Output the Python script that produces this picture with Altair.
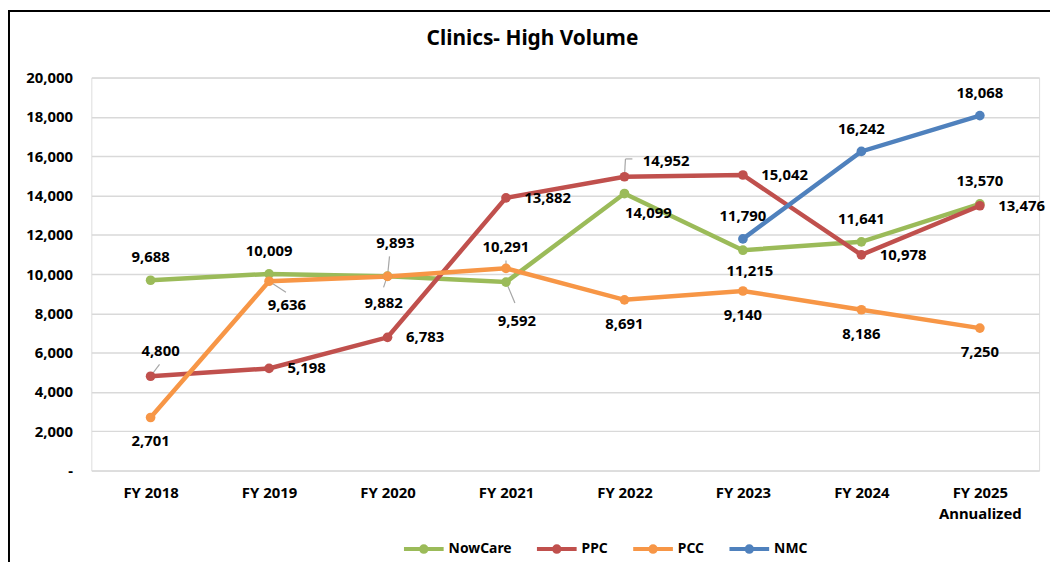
import altair as alt
import pandas as pd

# ---- data ----
years = ["FY 2018", "FY 2019", "FY 2020", "FY 2021", "FY 2022", "FY 2023", "FY 2024", "FY 2025"]
nowcare = [9688, 10009, 9893, 9592, 14099, 11215, 11641, 13570]
ppc = [4800, 5198, 6783, 13882, 14952, 15042, 10978, 13476]
pcc = [2701, 9636, 9882, 10291, 8691, 9140, 8186, 7250]
nmc = [None, None, None, None, None, 11790, 16242, 18068]
series_names = ["NowCare", "PPC", "PCC", "NMC"]
series_colors = ["#9BBB59", "#C0504D", "#F79646", "#4F81BD"]
y_ticks = [0, 2000, 4000, 6000, 8000, 10000, 12000, 14000, 16000, 18000, 20000]

# ---- label placement (dx, dy, align) ----
ABOVE = (0, -23, "center")
BELOW = (0, 24, "center")
RIGHT = (18.5, 0, "left")
placements = {
    "NowCare": [ABOVE, ABOVE, (8, -33, "center"), (11, 39, "center"), (24, 20, "center"),
                (7, 21, "center"), ABOVE, ABOVE],
    "PPC": [(10, -25, "center"), RIGHT, RIGHT, RIGHT, (18.5, -16, "left"), RIGHT, RIGHT, RIGHT],
    "PCC": [BELOW, (18, 24, "center"), (-4, 27, "center"), (0, -21, "center"), BELOW, BELOW, BELOW, BELOW],
    "NMC": [None, None, None, None, None, ABOVE, ABOVE, ABOVE],
}
leaders = [
    ("NowCare", "FY 2020", 2, -20, 0, 0),
    ("PCC", "FY 2020", -1, 2, -4, 11),
    ("NowCare", "FY 2021", 1, 2, 9, 21),
    ("PCC", "FY 2021", 0, -8, 0, 0),
    ("PPC", "FY 2022", 0, 0, 1, -18),
    ("PPC", "FY 2022", 1, -18, 8, -18),
    ("PPC", "FY 2018", 0, 0, 9, -12),
    ("PCC", "FY 2019", 0, 0, 17, 11),
]

pl_list = []
rows = []
for name, vals in zip(series_names, [nowcare, ppc, pcc, nmc]):
    for i, (yr, v) in enumerate(zip(years, vals)):
        if v is None:
            continue
        p = placements[name][i]
        if p not in pl_list:
            pl_list.append(p)
        rows.append({"series": name, "year": yr, "value": v, "pl": pl_list.index(p)})
df = pd.DataFrame(rows)

FONT = "Noto Sans"
cscale = alt.Scale(domain=series_names, range=series_colors)

xaxis = alt.Axis(
    title=None, labelAngle=0, ticks=False, domain=False, grid=False,
    labelFont=FONT, labelFontSize=15, labelFontWeight="bold", labelColor="black",
    labelPadding=15, labelLineHeight=21,
    labelExpr="datum.value == 'FY 2025' ? ['FY 2025', 'Annualized'] : datum.value",
)
yaxis = alt.Axis(
    title=None, values=y_ticks, ticks=False, domain=False, grid=True,
    gridColor="#d9d9d9", gridWidth=1.5,
    labelFont=FONT, labelFontSize=15, labelFontWeight="bold", labelColor="black",
    labelPadding=19,
    labelExpr="datum.value == 0 ? '-\u00a0\u00a0' : format(datum.value, ',')",
)

base = alt.Chart(df).encode(
    x=alt.X("year:N", sort=years, scale=alt.Scale(type="point", padding=0.5), axis=xaxis),
    y=alt.Y("value:Q", scale=alt.Scale(domain=[0, 20000], nice=False), axis=yaxis),
)

SYMBOL = ("M-1,0L1,0"
          "M0.14,0A0.14,0.14,0,1,1,-0.14,0A0.14,0.14,0,1,1,0.14,0"
          "M0.05,0A0.05,0.05,0,1,1,-0.05,0A0.05,0.05,0,1,1,0.05,0")
legend = alt.Legend(
    orient="none", legendX=313, legendY=453, direction="horizontal", columns=4,
    title=None, symbolType=SYMBOL, symbolSize=1600, symbolStrokeWidth=4,
    labelFont=FONT, labelFontSize=14, labelFontWeight="bold", labelColor="black",
    labelOffset=3, columnPadding=17, padding=0, symbolOpacity=1,
)

lines = base.mark_line(strokeWidth=4.5).encode(
    color=alt.Color("series:N", scale=cscale, legend=legend)
)
points = base.mark_circle(size=95, opacity=1).encode(
    color=alt.Color("series:N", scale=cscale, legend=None)
)

leader_layers = []
for s, yr, a, b, c, d in leaders:
    leader_layers.append(
        base.mark_rule(color="#a6a6a6", strokeWidth=1.2, xOffset=a, yOffset=b, x2Offset=c, y2Offset=d)
        .encode(x2=alt.X2("year"), y2=alt.Y2("value"))
        .transform_filter((alt.datum.series == s) & (alt.datum.year == yr))
    )

text_layers = []
for k, (dx, dy, al) in enumerate(pl_list):
    text_layers.append(
        base.mark_text(dx=dx, dy=dy, align=al, baseline="middle", font=FONT, fontSize=15,
                       fontWeight="bold", color="black")
        .encode(text=alt.Text("value:Q", format=","))
        .transform_filter(alt.datum.pl == k)
    )

one = alt.Chart(pd.DataFrame({"a": [0]}))
frame_left = one.mark_rule(color="black", strokeWidth=2).encode(
    x=alt.value(-83), y=alt.value(-67), y2=alt.value(494))
frame_top = one.mark_rule(color="black", strokeWidth=2).encode(
    x=alt.value(-84), x2=alt.value(966), y=alt.value(-67))

chart = alt.layer(
    lines, *leader_layers, points, *text_layers, frame_left, frame_top
).properties(
    width=955, height=396,
    padding={"left": 84, "top": 68, "right": 11, "bottom": 90},
    autosize=alt.AutoSizeParams(type="none"),
    title=alt.TitleParams("Clinics- High Volume", font=FONT, fontSize=21, fontWeight="bold",
                          color="black", anchor="middle", dx=-33, offset=-39),
).configure_view(stroke="black", strokeWidth=2).configure(background="white")

chart.save("out.html", embed_options={"renderer": "svg", "actions": False})
